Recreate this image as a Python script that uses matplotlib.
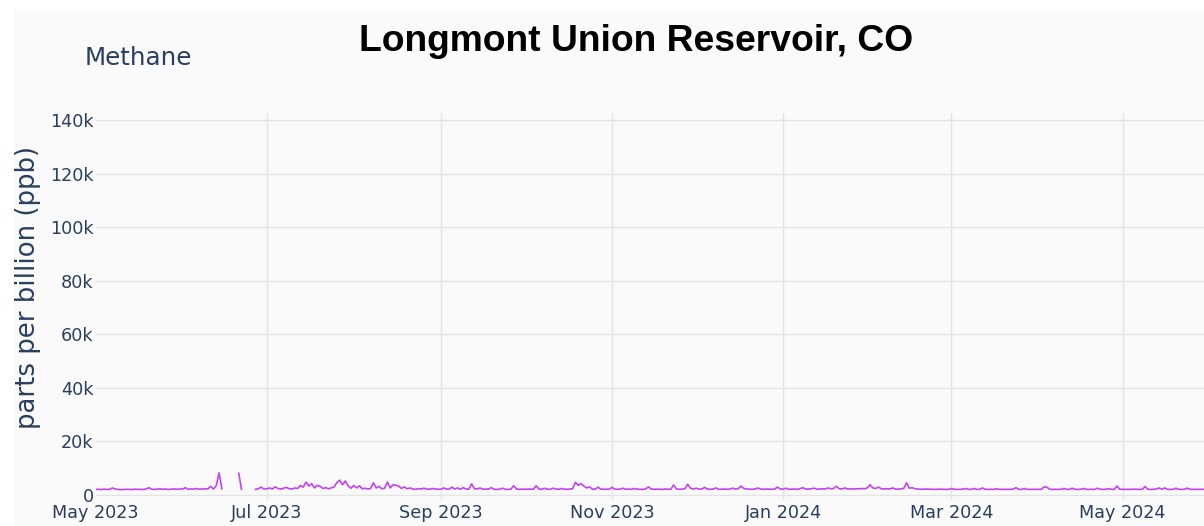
import numpy as np
import pandas as pd
import matplotlib
matplotlib.use("Agg")
import matplotlib.pyplot as plt
import matplotlib.dates as mdates
from matplotlib.patches import Rectangle
from matplotlib.ticker import FuncFormatter

nan = np.nan

# daily methane readings (ppb)
may_2023 = [2050, 2100, 2000, 2150, 2050, 2100, 2600, 2200, 2050, 2000, 2000, 2100, 2050, 2000, 2150, 2050,
            2100, 2000, 2200, 2700, 2100, 2050, 2150, 2300, 2100, 2200, 2050, 2150, 2250, 2100, 2200]
jun_2023 = [2200, 2700, 2100, 2250, 2150, 2400, 2100, 2200, 2300, 2250, 3200, 2200, 3500, 8200, 2300,
            nan, nan, nan, nan, nan, 8100, 2100, nan, nan, nan, nan, 2100, 2300, 2900, 2200]
jul_2023 = [2300, 2600, 2200, 3000, 2400, 2200, 2500, 2800, 2300, 2200, 2600, 2400, 3500, 2900, 4800, 3300,
            4200, 2600, 3600, 3200, 2400, 2700, 2300, 2600, 3000, 4600, 5500, 3800, 5200, 3400, 2500]
aug_2023 = [3500, 2600, 3400, 2300, 2500, 2200, 2400, 4500, 2600, 3200, 2300, 2500, 4800, 2600, 3800, 3600,
            3300, 2400, 3000, 2300, 2600, 2200, 2100, 2300, 2200, 2500, 2200, 2100, 2400, 2200, 2150]
sep_2023 = [2100, 2600, 2200, 2150, 2900, 2200, 2600, 2100, 2700, 2200, 2100, 4100, 2300, 2200, 2600,
            2100, 2200, 2150, 2700, 2100, 2050, 2150, 2500, 2100, 2050, 2200, 3400, 2200, 2100, 2150]
oct_2023 = [2100, 2200, 2150, 2100, 3400, 2200, 2100, 2500, 2150, 2100, 2500, 2200, 2100, 2400, 2150, 2100,
            2200, 2300, 4700, 3600, 4200, 3300, 2600, 3000, 2200, 2100, 2900, 2200, 2100, 2150, 2100]
nov_2023 = [2800, 2200, 2100, 2150, 2500, 2100, 2200, 2100, 2400, 2150, 2100, 2050, 2200, 3000, 2200,
            2100, 2150, 2100, 2050, 2200, 2100, 2150, 3700, 2200, 2100, 2150, 2300, 4000, 2500, 2200]
dec_2023 = [2500, 2200, 2150, 2800, 2200, 2100, 2150, 2600, 2100, 2150, 2200, 2100, 2150, 2500, 2200, 2300,
            3300, 2400, 2200, 2150, 2100, 2200, 2600, 2150, 2100, 2200, 2150, 2100, 2200, 2900, 2200]
jan_2024 = [2150, 2500, 2100, 2150, 2200, 2100, 2300, 2700, 2200, 2150, 2300, 2500, 2200, 2150, 2300, 2200,
            2600, 2300, 2400, 3200, 2300, 2200, 2600, 2200, 2250, 2200, 2300, 2250, 2400, 2300, 2600]
feb_2024 = [3800, 2600, 2400, 2900, 2300, 2200, 2300, 2200, 2600, 2200, 2150, 2300, 2400, 4500, 2500,
            2700, 2300, 2200, 2150, 2100, 2200, 2150, 2100, 2050, 2100, 2150, 2100, 2050, 2100]
mar_2024 = [2400, 2100, 2050, 2100, 2150, 2400, 2100, 2050, 2400, 2100, 2050, 2600, 2100, 2050, 2100, 2050,
            2300, 2100, 2050, 2100, 2050, 2100, 2150, 2700, 2100, 2050, 2400, 2100, 2050, 2100, 2050]
apr_2024 = [2100, 2050, 3000, 2900, 2100, 2050, 2100, 2050, 2100, 2400, 2100, 2050, 2500, 2100, 2050,
            2100, 2400, 2100, 2050, 2100, 2050, 2500, 2100, 2050, 2100, 2350, 2100, 2050, 3300, 2100]
may_2024 = [2100, 2050, 2100, 2050, 2150, 2100, 2050, 2100, 3100, 2100, 2050, 2100, 2150, 2600, 2100, 2600,
            2100, 2050, 2100, 2500, 2100, 2050, 2100, 2500, 2100, 2050, 2100, 2050, 2100, 2050, 2100]

months = [may_2023, jun_2023, jul_2023, aug_2023, sep_2023, oct_2023, nov_2023,
          dec_2023, jan_2024, feb_2024, mar_2024, apr_2024, may_2024]
methane = np.array(sum(months, []), dtype=float)
dates = pd.date_range("2023-05-01", periods=len(methane), freq="D")

TITLE = "Longmont Union Reservoir, CO"
SUBTITLE = "Methane"
YLABEL = "parts per billion (ppb)"
yticks = [0, 20000, 40000, 60000, 80000, 100000, 120000, 140000]

text_col = "#2a3f5f"
grid_col = "#e4e4e4"
bg = "#fafafa"

fig = plt.figure(figsize=(12.04, 5.26), dpi=100, facecolor="white")
fig.patches.append(Rectangle((14 / 1204, 0), 1, (526 - 11) / 526, transform=fig.transFigure,
                             facecolor=bg, edgecolor="none", zorder=-10))

ax = fig.add_axes([95.6 / 1204, 26 / 526, 1 - 95.6 / 1204, (500 - 113) / 526])
ax.set_facecolor(bg)
ax.plot(dates, methane, color="#c342f2", lw=1.2, zorder=3)

ax.set_xlim(pd.Timestamp("2023-05-01"), pd.Timestamp("2024-05-30"))
ax.set_ylim(-1900, 142600)
ax.set_yticks(yticks)
ax.yaxis.set_major_formatter(FuncFormatter(lambda v, p: "0" if v == 0 else f"{int(v / 1000)}k"))
ax.xaxis.set_major_locator(mdates.MonthLocator(bymonth=[1, 3, 5, 7, 9, 11]))
ax.xaxis.set_major_formatter(mdates.DateFormatter("%b %Y"))

ax.grid(True, color=grid_col, lw=1)
ax.set_axisbelow(True)
for s in ax.spines.values():
    s.set_visible(False)
ax.tick_params(axis="both", length=0, labelsize=12.7, labelcolor=text_col)
ax.tick_params(axis="y", pad=1.5)
ax.tick_params(axis="x", pad=3)
# no gridline on the left edge
fig.canvas.draw()
ax.get_xgridlines()[0].set_visible(False)

fig.text(28 / 1204, 1 - 287 / 526, YLABEL, rotation=90, ha="center", va="center",
         fontsize=18.7, color=text_col)
fig.text(636 / 1204, 1 - 41 / 526, TITLE, ha="center", va="center", fontsize=26.8,
         fontweight="bold", family="Liberation Sans", color="black")
fig.text(85 / 1204, 1 - 58 / 526, SUBTITLE, ha="left", va="center", fontsize=17.7, color=text_col)

fig.savefig("out.png", dpi=100, facecolor=fig.get_facecolor())
